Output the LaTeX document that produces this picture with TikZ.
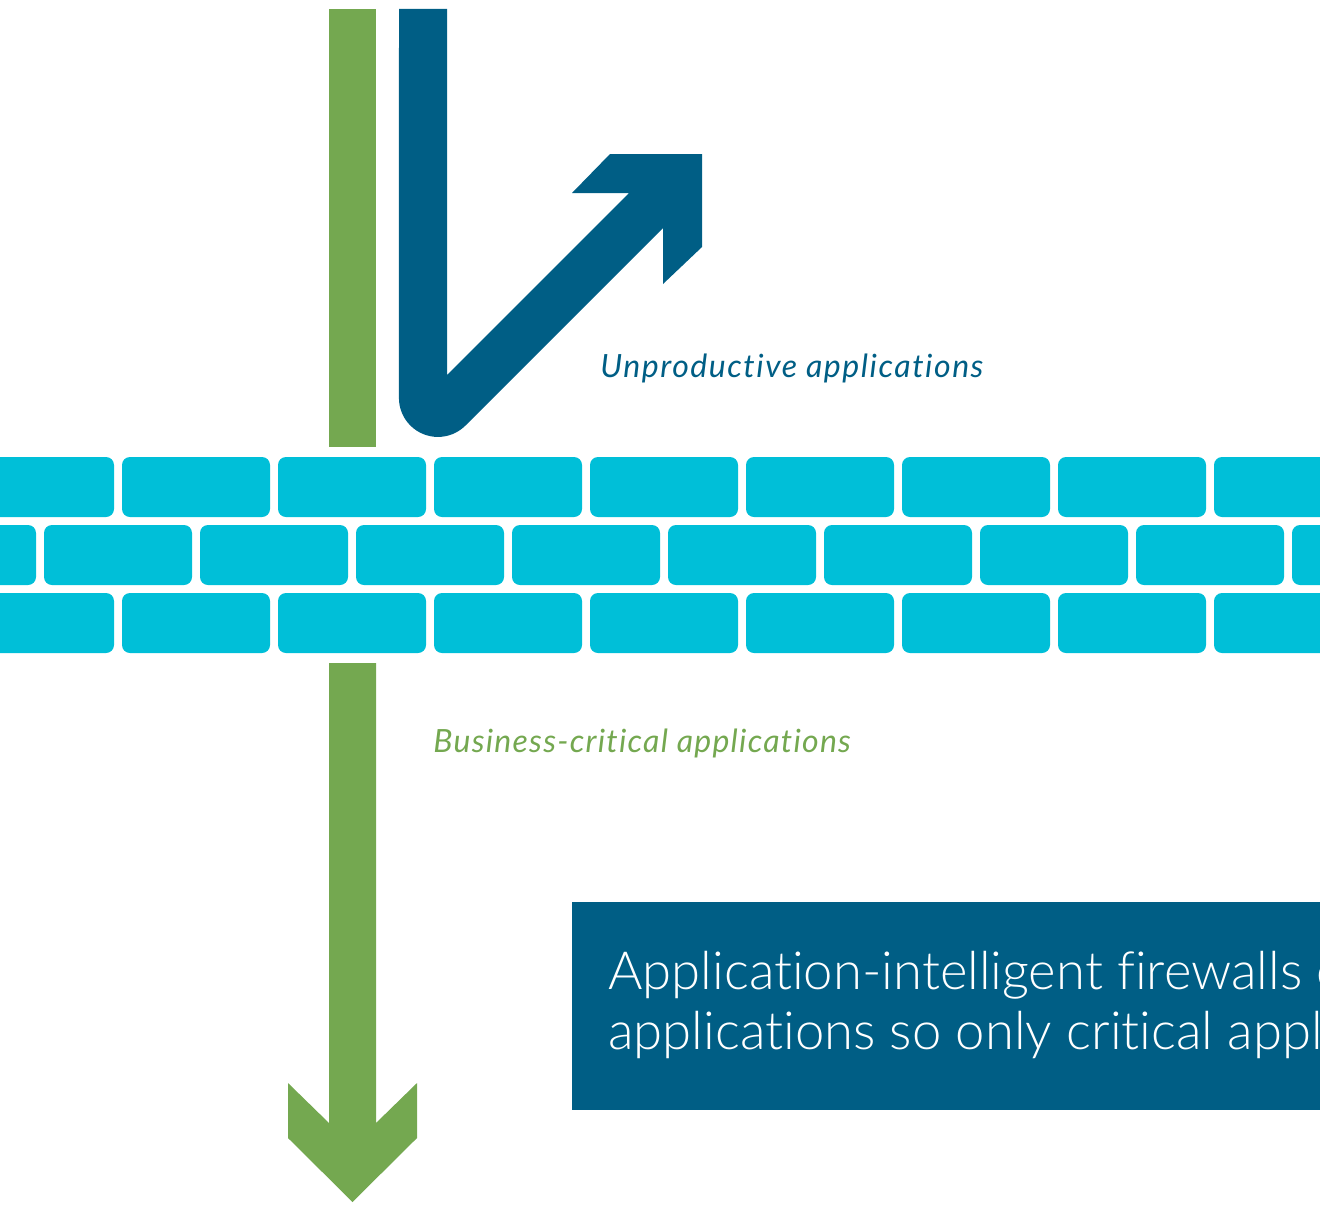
\documentclass[tikz,border=0pt]{standalone}
\usepackage{fontspec}
\setmainfont{Lato}[Ligatures=NoCommon]
\newfontfamily\boxfont{Lato Light}[Ligatures=NoCommon]
\definecolor{dblue}{RGB}{0,94,133}
\definecolor{agreen}{RGB}{116,168,80}
\definecolor{brickc}{RGB}{0,191,216}
\tikzset{
  brick/.style={fill=brickc, rounded corners=4pt},
  lbl/.style={anchor=base west, inner sep=0pt, font=\fontsize{16}{19}\selectfont\itshape\addfontfeature{LetterSpace=4.8}},
  lblb/.style={anchor=base west, inner sep=0pt, font=\fontsize{16}{19}\selectfont\itshape\addfontfeature{LetterSpace=3.9}},
  boxtxt/.style={anchor=base west, inner sep=0pt, text=white, font=\boxfont\fontsize{26.3}{30}\selectfont}
}
\begin{document}
\begin{tikzpicture}[x=0.5pt,y=-0.5pt]
\useasboundingbox (0,0) rectangle (1320,1204);
\clip (0,0) rectangle (1320,1204);
% bricks
\foreach \i in {0,...,8} {
  \fill[brick] (-34+156*\i,457) rectangle ++(148,60);
  \fill[brick] (-34+156*\i,593) rectangle ++(148,60);
}
\foreach \i in {0,...,9} {
  \fill[brick] (-112+156*\i,525) rectangle ++(148,60);
}
% green bar above wall
\fill[agreen] (329,9) rectangle (376,447);
% green arrow below wall
\fill[agreen] (329,663) -- (376,663) -- (376,1123) -- (417,1083) -- (417,1138)
  -- (352.5,1202) -- (288,1138) -- (288,1083) -- (329,1123) -- cycle;
% blue deflected arrow
\fill[dblue] (399,9) -- (447,9) -- (447,375) -- (629,193) -- (572,193) -- (610,154)
  -- (702,154) -- (702,247) -- (663,284) -- (663,228) -- (465.5,425.5)
  arc[start angle=45, end angle=180, radius=39] -- cycle;
% labels
\node[lbl, text=dblue] (unprod) at (600,377) {Unproductive applications};
\node[lblb, text=agreen] (busi) at (433,752) {Business-critical applications};
% box
\fill[dblue] (572,902) rectangle (1340,1110);
\node[boxtxt] (l1) at (608,989) {Application-intelligent firewalls e};
\node[boxtxt] (l2) at (608,1049) {applications so only critical appli};
\end{tikzpicture}
\end{document}
